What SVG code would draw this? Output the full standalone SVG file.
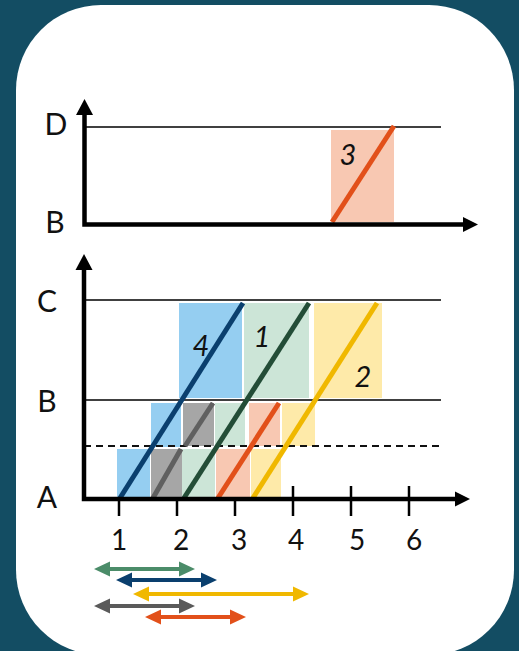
<svg xmlns="http://www.w3.org/2000/svg" width="519" height="651" viewBox="0 0 519 651">
<style>
.lbl{font-family:Lato,"Liberation Sans",sans-serif;font-size:30px;fill:#111;text-anchor:middle}
.dig{font-family:Lato,"Liberation Sans",sans-serif;font-size:28px;fill:#111;text-anchor:middle}
.num{font-family:Lato,"Liberation Sans",sans-serif;font-size:29px;font-style:italic;fill:#111;text-anchor:middle}
.axis{stroke:#000;stroke-width:4.5;fill:none}
.grid{stroke:#000;stroke-width:1.6;fill:none}
.tick{stroke:#000;stroke-width:2.5}
.diag{stroke-width:5;fill:none;stroke-linecap:butt}
.cb{fill:#95cef1}.cg{fill:#cce5d7}.cy{fill:#feeaa9}.co{fill:#f8c8b2}.cgr{fill:#a6a6a6}
</style>
<rect width="519" height="651" fill="#134d63"/>
<rect x="16" y="5" width="498" height="650" rx="85" ry="85" fill="#fff"/>

<g id="top-plot">
<line class="grid" x1="84" y1="127" x2="441" y2="127"/>
<g id="task3-top">
<rect class="co" x="331" y="130" width="63" height="92"/>
<line class="diag" x1="332" y1="222" x2="394" y2="126" stroke="#e2501a"/>
<text class="num" x="348" y="165">3</text>
</g>
<path class="axis" d="M84.5,112 V224.5 H466"/>
<polygon points="76,115 84.5,99 93,115" fill="#000"/>
<polygon points="463,217 478,224.5 463,232" fill="#000"/>
<text class="lbl" x="56" y="135">D</text>
<text class="lbl" x="55" y="233">B</text>
</g>

<g id="bottom-plot">
<line class="grid" x1="84" y1="300" x2="441" y2="300"/>
<line class="grid" x1="84" y1="400" x2="441" y2="400"/>
<g id="ticks">
<line class="tick" x1="119" y1="486" x2="119" y2="516"/>
<line class="tick" x1="177" y1="486" x2="177" y2="516"/>
<line class="tick" x1="235" y1="486" x2="235" y2="516"/>
<line class="tick" x1="293" y1="486" x2="293" y2="516"/>
<line class="tick" x1="351" y1="486" x2="351" y2="516"/>
<line class="tick" x1="409" y1="486" x2="409" y2="516"/>
</g>
<g id="rects">
<rect class="cb" x="117" y="449" width="33" height="49"/>
<rect class="cgr" x="151" y="449" width="31" height="49"/>
<rect class="cg" x="182" y="449" width="33" height="49"/>
<rect class="co" x="216" y="449" width="34" height="49"/>
<rect class="cy" x="251" y="449" width="30" height="49"/>
<rect class="cb" x="151" y="403" width="30" height="44"/>
<rect class="cgr" x="183" y="403" width="31" height="43"/>
<rect class="cg" x="215" y="403" width="30" height="43"/>
<rect class="co" x="249" y="403" width="31" height="43"/>
<rect class="cy" x="282" y="403" width="33" height="43"/>
<rect class="cb" x="179" y="303" width="63" height="95"/>
<rect class="cg" x="244" y="303" width="65" height="95"/>
<rect class="cy" x="314" y="303" width="68" height="95"/>
</g>
<line x1="84" y1="446" x2="441" y2="446" stroke="#111" stroke-width="1.8" stroke-dasharray="7,5"/>
<g id="task-lines">
<line class="diag" x1="120" y1="498" x2="243" y2="303" stroke="#0a3f6e"/>
<line class="diag" x1="153" y1="498" x2="181" y2="449" stroke="#606060"/>
<line class="diag" x1="185" y1="446" x2="213" y2="403" stroke="#606060"/>
<line class="diag" x1="184" y1="498" x2="309" y2="303" stroke="#234d37"/>
<line class="diag" x1="218" y1="498" x2="279" y2="403" stroke="#e2501a"/>
<line class="diag" x1="253" y1="498" x2="377" y2="303" stroke="#f0b800"/>
</g>
<text class="num" x="201" y="356">4</text>
<text class="num" x="262" y="347">1</text>
<text class="num" x="363" y="387">2</text>
<path class="axis" d="M84,267 V499 H458"/>
<polygon points="75.5,270 84,254 92.5,270" fill="#000"/>
<polygon points="455,491.5 470,499 455,506.5" fill="#000"/>
<text class="lbl" x="47" y="312">C</text>
<text class="lbl" x="47" y="412">B</text>
<text class="lbl" x="47" y="508">A</text>
<text class="dig" x="119" y="550">1</text>
<text class="dig" x="181" y="550">2</text>
<text class="dig" x="239" y="550">3</text>
<text class="dig" x="296" y="550">4</text>
<text class="dig" x="357" y="550">5</text>
<text class="dig" x="414" y="550">6</text>
</g>

<g id="connectors">
<path fill="#4b8c69" d="M94,569 L110,561.5 L110,567 L179,567 L179,561.5 L195,569 L179,576.5 L179,571 L110,571 L110,576.5 Z"/>
<path fill="#0a3f6e" d="M116,580 L132,572.5 L132,578 L201,578 L201,572.5 L217,580 L201,587.5 L201,582 L132,582 L132,587.5 Z"/>
<path fill="#f0b800" d="M133,594 L149,586.5 L149,592 L293,592 L293,586.5 L309,594 L293,601.5 L293,596 L149,596 L149,601.5 Z"/>
<path fill="#5a5a5a" d="M94,606 L110,598.5 L110,604 L179,604 L179,598.5 L195,606 L179,613.5 L179,608 L110,608 L110,613.5 Z"/>
<path fill="#e2501a" d="M145,617 L161,609.5 L161,615 L230,615 L230,609.5 L246,617 L230,624.5 L230,619 L161,619 L161,624.5 Z"/>
</g>
</svg>
